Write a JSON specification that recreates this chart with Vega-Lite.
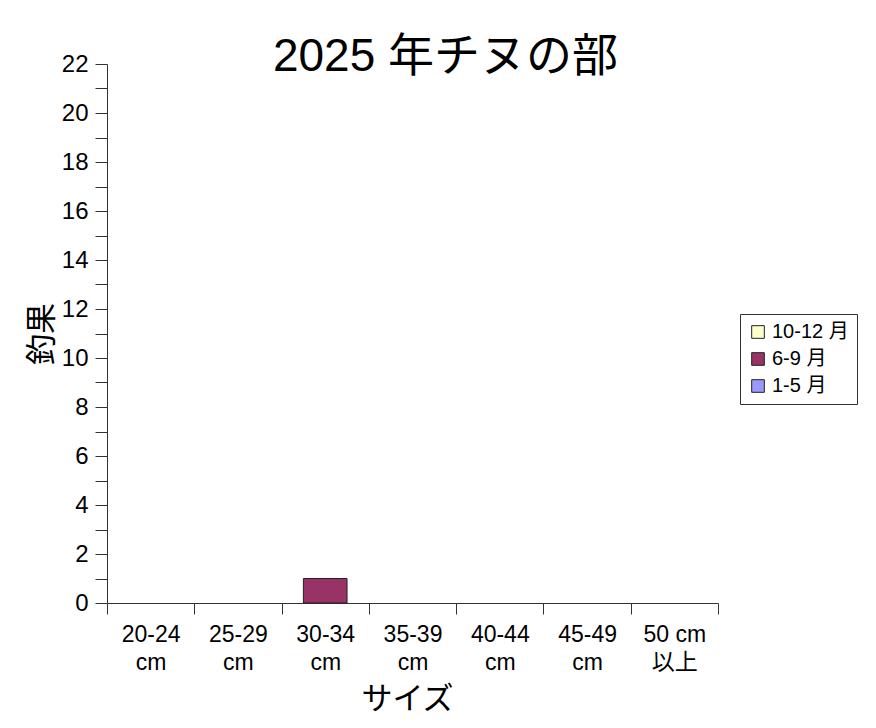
{
  "$schema": "https://vega.github.io/schema/vega-lite/v6.json",
  "width": 611,
  "height": 539,
  "autosize": {"type": "none"},
  "padding": {"left": 107, "top": 64, "right": 158, "bottom": 125},
  "background": "white",
  "config": {
    "view": {"stroke": null},
    "font": "Liberation Sans, Noto Sans CJK JP",
    "axis": {"labelFont": "Liberation Sans, Noto Sans CJK JP", "titleFont": "Liberation Sans, Noto Sans CJK JP", "labelColor": "#000", "titleColor": "#000", "domainColor": "#333", "tickColor": "#333", "titleFontWeight": "normal"}
  },
  "title": {
    "text": "2025 年チヌの部",
    "fontSize": 46,
    "fontWeight": "normal",
    "font": "Liberation Sans, Noto Sans CJK JP",
    "color": "#000",
    "anchor": "middle",
    "dx": 33,
    "offset": -29
  },
  "data": {
    "values": [
      {"size": "20-24\ncm", "period": "10-12 月", "count": 0},
      {"size": "20-24\ncm", "period": "6-9 月", "count": 0},
      {"size": "20-24\ncm", "period": "1-5 月", "count": 0},
      {"size": "25-29\ncm", "period": "10-12 月", "count": 0},
      {"size": "25-29\ncm", "period": "6-9 月", "count": 0},
      {"size": "25-29\ncm", "period": "1-5 月", "count": 0},
      {"size": "30-34\ncm", "period": "10-12 月", "count": 0},
      {"size": "30-34\ncm", "period": "6-9 月", "count": 1},
      {"size": "30-34\ncm", "period": "1-5 月", "count": 0},
      {"size": "35-39\ncm", "period": "10-12 月", "count": 0},
      {"size": "35-39\ncm", "period": "6-9 月", "count": 0},
      {"size": "35-39\ncm", "period": "1-5 月", "count": 0},
      {"size": "40-44\ncm", "period": "10-12 月", "count": 0},
      {"size": "40-44\ncm", "period": "6-9 月", "count": 0},
      {"size": "40-44\ncm", "period": "1-5 月", "count": 0},
      {"size": "45-49\ncm", "period": "10-12 月", "count": 0},
      {"size": "45-49\ncm", "period": "6-9 月", "count": 0},
      {"size": "45-49\ncm", "period": "1-5 月", "count": 0},
      {"size": "50 cm\n以上", "period": "10-12 月", "count": 0},
      {"size": "50 cm\n以上", "period": "6-9 月", "count": 0},
      {"size": "50 cm\n以上", "period": "1-5 月", "count": 0}
    ]
  },
  "encoding": {
    "x": {
      "field": "size",
      "type": "nominal",
      "sort": null,
      "scale": {"domain": ["20-24\ncm", "25-29\ncm", "30-34\ncm", "35-39\ncm", "40-44\ncm", "45-49\ncm", "50 cm\n以上"], "paddingInner": 0, "paddingOuter": 0},
      "axis": {
        "title": "サイズ",
        "titleFontSize": 31,
        "titlePadding": 10,
        "titleX": 300,
        "labelAngle": 0,
        "labelFontSize": 23,
        "labelExpr": "split(datum.label, '\\n')",
        "labelLineHeight": 28,
        "labelPadding": 9,
        "tickBand": "extent",
        "tickSize": 11,
        "labelBaseline": "top"
      }
    }
  },
  "layer": [
    {
      "transform": [{"filter": "datum.count > 0"}],
      "mark": {"type": "bar", "width": {"band": 0.5}, "stroke": "#222", "strokeWidth": 1},
      "encoding": {
        "y": {
          "field": "count",
          "type": "quantitative",
          "stack": "zero",
          "scale": {"domain": [0, 22], "nice": false},
          "axis": {
            "title": "釣果",
            "titleFontSize": 31,
            "titlePadding": 3,
            "values": [0, 2, 4, 6, 8, 10, 12, 14, 16, 18, 20, 22],
            "labelFontSize": 24,
            "grid": false,
            "tickSize": 12,
            "labelPadding": 7
          }
        },
        "color": {
          "field": "period",
          "type": "nominal",
          "scale": {"domain": ["10-12 月", "6-9 月", "1-5 月"], "range": ["#ffffcc", "#993366", "#9999ff"]},
          "legend": {
            "title": null,
            "orient": "none",
            "legendX": 633,
            "legendY": 250,
            "symbolType": "square",
            "symbolSize": 160,
            "symbolStrokeColor": "#222",
            "symbolStrokeWidth": 1,
            "labelFontSize": 20,
            "labelFont": "Liberation Sans, Noto Sans CJK JP",
            "labelColor": "#000",
            "rowPadding": 7,
            "padding": 8,
            "strokeColor": "#333",
            "fillColor": "white"
          }
        }
      }
    },
    {
      "mark": {"type": "bar", "opacity": 0},
      "encoding": {
        "y": {
          "field": "count",
          "type": "quantitative",
          "stack": "zero",
          "axis": {
            "orient": "left",
            "title": null,
            "values": [1, 3, 5, 7, 9, 11, 13, 15, 17, 19, 21],
            "labels": false,
            "domain": false,
            "grid": false,
            "tickSize": 12
          }
        }
      }
    }
  ],
  "resolve": {"axis": {"y": "independent"}}
}
